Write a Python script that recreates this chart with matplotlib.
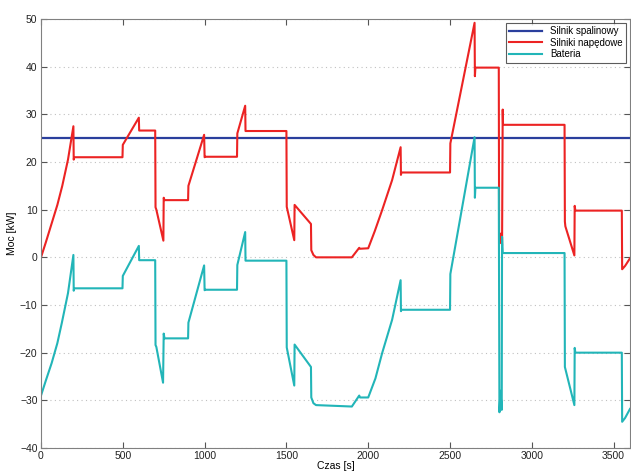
import matplotlib
matplotlib.use("Agg")
import matplotlib.pyplot as plt

plt.rcParams['font.family'] = ['Liberation Sans', 'DejaVu Sans']

# silnik spalinowy - stala moc
engine_t = [0, 3600]
engine_p = [25, 25]

# silniki napedowe
motor_t = [0, 30, 65, 100, 130, 165, 198, 200, 203, 498, 500, 598, 600, 698, 700, 705, 748, 750, 755,
           899, 901, 997, 1000, 1003, 1198, 1200, 1248, 1250, 1500, 1502, 1548, 1550, 1650, 1652, 1665,
           1681, 1900, 1945, 1950, 2000, 2040, 2085, 2146, 2198, 2200, 2203, 2500, 2502, 2650, 2652,
           2655, 2798, 2800, 2805, 2812, 2818, 2822, 2824, 3200, 3202, 3205, 3260, 3262, 3266, 3550,
           3552, 3570, 3600]
motor_p = [0, 3.2, 7.1, 11, 15, 20.5, 27.5, 20.5, 21, 21, 23.6, 29.3, 26.6, 26.6, 10.5, 10, 3.5, 12.5, 12,
           12, 15, 25.7, 21, 21.1, 21.1, 26, 31.8, 26.5, 26.5, 10.6, 3.6, 11, 7, 1.5, 0.5,
           0, 0, 2.0, 1.8, 1.9, 5.5, 9.9, 16.2, 23.1, 17.3, 17.8, 17.8, 23.9, 49.2, 38,
           39.8, 39.8, 4.5, 3, 5, 2.5, 31, 27.8, 27.8, 7.5, 6.5, 0.4, 10.8, 9.8, 9.8,
           -2.5, -1.8, -0.2]

# bateria
batt_t = [0, 30, 65, 100, 127, 165, 198, 200, 203, 498, 500, 598, 600, 698, 700, 705, 746, 750, 755,
          899, 901, 997, 1000, 1003, 1198, 1200, 1248, 1250, 1500, 1502, 1548, 1550, 1650, 1652, 1665,
          1681, 1900, 1945, 1950, 2000, 2044, 2085, 2146, 2198, 2200, 2203, 2500, 2502, 2650, 2652,
          2655, 2798, 2802, 2808, 2816, 2818, 2822, 3200, 3202, 3260, 3262, 3266, 3550, 3552, 3570, 3600]
batt_p = [-29, -25.8, -22.2, -18, -13.8, -7.5, 0.5, -7, -6.5, -6.5, -3.9, 2.4, -0.6, -0.6, -18.4, -18.8, -26.3, -16, -17,
          -17, -13.7, -1.7, -6.9, -6.8, -6.8, -1.6, 5.3, -0.7, -0.7, -18.9, -26.9, -18.3, -23, -29.4, -30.6,
          -31, -31.3, -29.0, -29.4, -29.4, -25.4, -20.1, -13.1, -4.8, -11.3, -11, -11, -3.5, 25.2, 12.5,
          14.6, 14.6, -32.5, -28, -32, 4.3, 0.9, 0.9, -23, -31, -19, -20, -20, -34.5, -33.7, -31.8]

fig = plt.figure(figsize=(6.31, 4.72), dpi=100)
ax = fig.add_axes([41 / 631, 24 / 472, 589 / 631, 429 / 472])

ax.plot(engine_t, engine_p, color='#2a3f9d', lw=1.6, label='Silnik spalinowy')
ax.plot(motor_t, motor_p, color='#ec2323', lw=1.5, label='Silniki napędowe')
ax.plot(batt_t, batt_p, color='#22b5b8', lw=1.5, label='Bateria')

ax.set_xlim(0, 3600)
ax.set_ylim(-40, 50)
ax.set_xticks(range(0, 3501, 500))
ax.set_yticks(range(-40, 51, 10))
ax.yaxis.grid(True, linestyle=(0, (1, 3)), color='#c0c0c0', lw=0.8)
ax.tick_params(direction='in', top=True, right=True, labelsize=7.5, colors='#555555',
               labelcolor='#222222', length=4, pad=2.5)
for s in ax.spines.values():
    s.set_color('#808080')

ax.set_xlabel('Czas [s]', fontsize=7.5, labelpad=-0.5)
ax.set_ylabel('Moc [kW]', fontsize=7.5, labelpad=2)

leg = ax.legend(loc='upper right', fontsize=7, fancybox=False, handlelength=3.4,
                borderaxespad=0.4, labelspacing=0.15, borderpad=0.35)
leg.get_frame().set_edgecolor('#333333')
leg.get_frame().set_linewidth(0.8)

fig.savefig('out.png', dpi=100)
